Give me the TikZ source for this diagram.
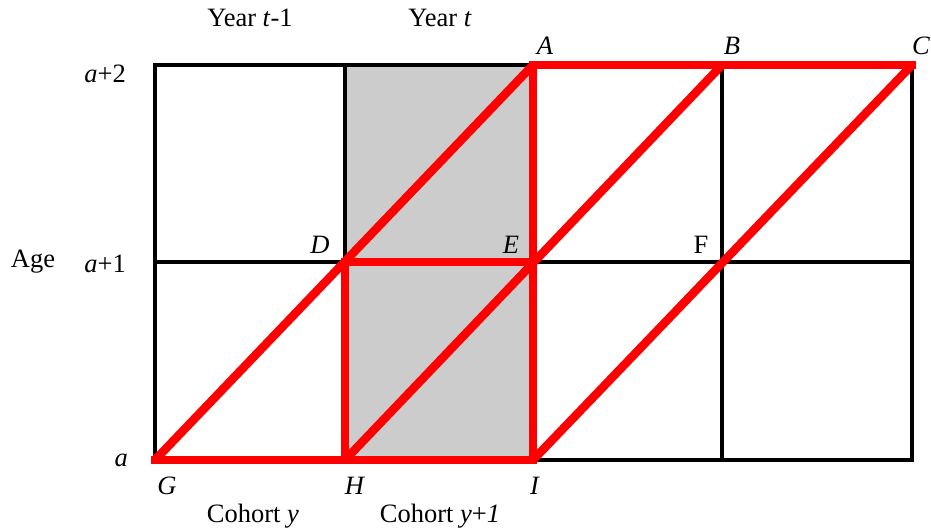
\documentclass[tikz,border=0pt]{standalone}
\usepackage{fontspec}
\setmainfont{Liberation Serif}
\usepackage{tikz}
\usetikzlibrary{positioning}

\begin{document}
\begin{tikzpicture}[x=1pt, y=-1pt, every node/.style={font=\fontsize{26.5}{31}\selectfont, inner sep=0pt},
    gridline/.style={black, line width=3.2pt},
    lexis/.style={red, line width=8.5pt},
    lexisflat/.style={lexis, line cap=rect}]
    \useasboundingbox (0,0) rectangle (931,531);

    % grid points
    \coordinate (A) at (533,65);  \coordinate (B) at (722,65);  \coordinate (C) at (912,65);
    \coordinate (D) at (345,262); \coordinate (E) at (533,262); \coordinate (F) at (722,262);
    \coordinate (G) at (155,460); \coordinate (H) at (345,460); \coordinate (I) at (533,460);
    \coordinate (topleft) at (155,65); \coordinate (midleft) at (155,262);
    \coordinate (topmid) at (345,65); \coordinate (midright) at (912,262);
    \coordinate (botright) at (912,460); \coordinate (botF) at (722,460);

    \fill[black!20] (topmid) rectangle (I);

    \draw[gridline] (topleft) rectangle (botright);
    \draw[gridline] (topmid) -- (H);
    \draw[gridline] (A) -- (I);
    \draw[gridline] (B) -- (botF);
    \draw[gridline] (midleft) -- (midright);

    % lexis lines
    \draw[lexis] (G) -- (A);
    \draw[lexis] (H) -- (B);
    \draw[lexis] (I) -- (C);
    \draw[lexis] (A) -- (I);
    \draw[lexis] (D) -- (H);
    \draw[lexisflat] (A) -- (C);
    \draw[lexisflat] (D) -- (E);
    \draw[lexisflat] (G) -- (I);

    % labels
    \node (yearprev) at (250,18) {Year \textit{t}-1};
    \node (yearcur) at (440,18) {Year \textit{t}};
    \node (labA) at (545,46) {\textit{A}};
    \node (labB) at (732,46) {\textit{B}};
    \node (labC) at (921,46) {\textit{C}};
    \node[anchor=east] (ageTwo) at (126,74) {\textit{a}+2};
    \node (age) at (33,262) {Age};
    \node[anchor=east] (ageOne) at (126,264) {\textit{a}+1};
    \node[anchor=east] (ageZero) at (128,460) {\textit{a}};
    \node (labD) at (320,245) {\textit{D}};
    \node (labE) at (511,245) {\textit{E}};
    \node (labF) at (701,245) {F};
    \node (labG) at (167,486) {\textit{G}};
    \node (labH) at (355,486) {\textit{H}};
    \node (labI) at (535,486) {\textit{I}};
    \node (cohortprev) at (253,516) {Cohort \textit{y}};
    \node (cohortnext) at (440,516) {Cohort \textit{y}+\textit{1}};
\end{tikzpicture}
\end{document}
